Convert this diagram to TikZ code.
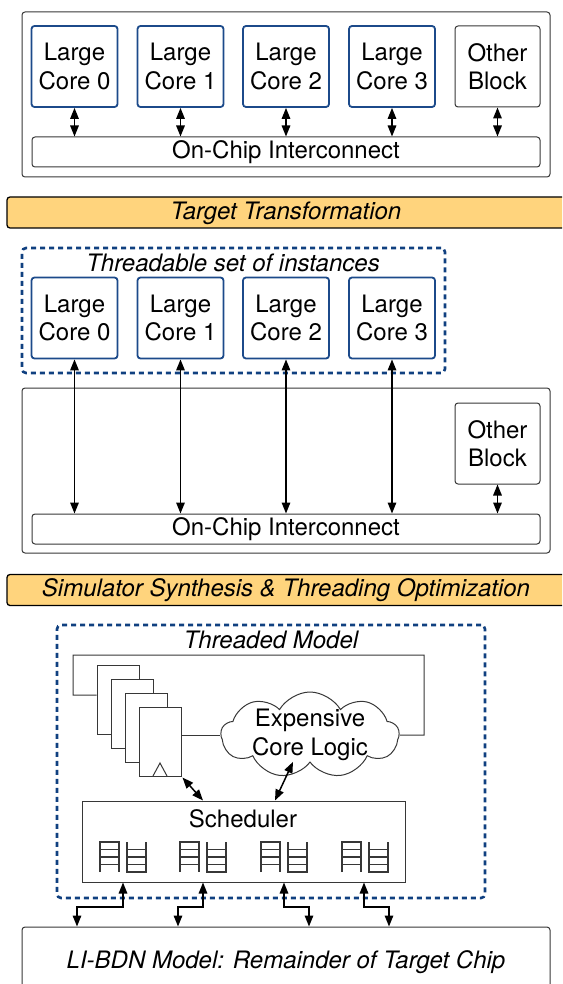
\documentclass[tikz,border=0pt]{standalone}
\usepackage{fontspec}
\setmainfont{TeX Gyre Heros}
\usetikzlibrary{arrows.meta,shapes.symbols}
\definecolor{coreblue}{RGB}{28,74,138}
\definecolor{dashblue}{RGB}{16,64,128}
\definecolor{bannerfill}{RGB}{255,212,125}
\definecolor{boxgray}{RGB}{55,55,55}
\begin{document}
\begin{tikzpicture}[x=1pt,y=-1pt,
  font=\fontsize{24}{28.5}\selectfont,
  corebox/.style={draw=coreblue, line width=1.8pt, rounded corners=3pt, fill=white, align=center, inner sep=0pt, minimum width=86pt, minimum height=81pt},
  plainbox/.style={draw=boxgray, line width=1pt, rounded corners=3pt, align=center, inner sep=0pt},
  dashbox/.style={draw=dashblue, line width=2.6pt, dash pattern=on 5pt off 4pt, rounded corners=4pt, inner sep=0pt},
  banner/.style={draw=black, line width=1.3pt, fill=bannerfill, rounded corners=3pt, inner sep=0pt, minimum width=563pt, minimum height=31pt},
  regbox/.style={draw=boxgray, line width=1pt, fill=white, inner sep=0pt, minimum width=42pt, minimum height=69pt},
  wire/.style={draw=boxgray, line width=1pt},
  qline/.style={draw=boxgray, line width=1.4pt},
  dbl/.style={{Triangle[length=11pt,width=8.5pt]}-{Triangle[length=11pt,width=8.5pt]}, line width=1.5pt},
]
\useasboundingbox (0,0) rectangle (562,984);
\clip (0,0) rectangle (562,984);

% ---------- Section 1 ----------
\node[plainbox, minimum width=528pt, minimum height=165pt] (o1) at (286,94.5) {};
\node[corebox] (a0) at (74.5,66.5) {Large\\Core 0};
\node[corebox] (a1) at (180.5,66.5) {Large\\Core 1};
\node[corebox] (a2) at (286,66.5) {Large\\Core 2};
\node[corebox] (a3) at (392,66.5) {Large\\Core 3};
\node[plainbox, minimum width=85pt, minimum height=81pt] (aob) at (497.5,66.5) {Other\\Block};
\node[plainbox, minimum width=508pt, minimum height=30pt] (ic1) at (286,152) {On-Chip Interconnect};
\foreach \n in {a0,a1,a2,a3,aob}
  \draw[dbl] (\n.south) -- (\n.south |- ic1.north);

% ---------- Banner 1 ----------
\node[banner] (b1) at (288.5,212.5) {};
\node (b1t) at (286,213) {\itshape Target Transformation};

% ---------- Section 2 ----------
\node[dashbox, minimum width=423pt, minimum height=125pt] (d2) at (233.5,310.5) {};
\node (d2t) at (233,263) {\itshape Threadable set of instances};
\node[plainbox, minimum width=528pt, minimum height=165pt] (o2) at (286,470.5) {};
\node[corebox] (c0) at (74.5,318) {Large\\Core 0};
\node[corebox] (c1) at (180.5,318) {Large\\Core 1};
\node[corebox] (c2) at (286,318) {Large\\Core 2};
\node[corebox] (c3) at (392,318) {Large\\Core 3};
\node[plainbox, fill=white, minimum width=85pt, minimum height=81pt] (cob) at (497.5,443.5) {Other\\Block};
\node[plainbox, minimum width=508pt, minimum height=30pt] (ic2) at (286,529) {On-Chip Interconnect};
\foreach \n in {c0,c1,c2,c3,cob}
  \draw[dbl] (\n.south) -- (\n.south |- ic2.north);

% ---------- Banner 2 ----------
\node[banner] (b2) at (288.5,590) {};
\node (b2t) at (286,590) {\itshape Simulator Synthesis \& Threading Optimization};

% ---------- Section 3 ----------
\node[dashbox, minimum width=428pt, minimum height=273pt] (d3) at (271,761.5) {};
\node (d3t) at (271,640) {\itshape Threaded Model};

\node[regbox] (r0) at (118,699.5) {};
\node[regbox] (r1) at (132,713.5) {};
\node[regbox] (r2) at (146,727.5) {};
\node[regbox] (r3) at (160,741.5) {};
\draw[wire] (153,776) -- (160,763) -- (167,776);

\node[cloud, draw=boxgray, line width=1pt, cloud puffs=9, cloud puff arc=120,
      cloud ignores aspect, minimum width=178pt, minimum height=86pt,
      inner sep=-10pt, align=center] (cl) at (310,735) {Expensive\\Core Logic};

\draw[wire] ([yshift=4.5pt]r0.west) -| (73,655) -| (424,735) -- (cl.east);
\draw[wire] (r3.east |- cl.west) -- (cl.west);

\node[draw=boxgray, line width=1pt, inner sep=0pt, minimum width=323pt, minimum height=81pt] (sch) at (243.5,841.5) {};
\node (scht) at (243,819) {Scheduler};

\foreach \L in {100,180,261,342} {
  \draw[qline] (\L,872) -- (\L,842) -- (\L+19,842) -- (\L+19,872);
  \draw[qline] (\L,849.5) -- ++(19,0) (\L,857) -- ++(19,0) (\L,864.5) -- ++(19,0);
  \draw[qline] (\L+27,842) -- (\L+27,872) -- (\L+46,872) -- (\L+46,842);
  \draw[qline] (\L+27,849.5) -- ++(19,0) (\L+27,857) -- ++(19,0) (\L+27,864.5) -- ++(19,0);
}

\draw[dbl] ([shift={(1pt,-1pt)}]r3.south east) -- ([xshift=-40.5pt]sch.north);
\draw[dbl] ([xshift=-17pt,yshift=1pt]cl.south) -- ([xshift=31.5pt]sch.north);

\node[plainbox, minimum width=528pt, minimum height=85pt] (lib) at (286,969.5) {};
\node (libt) at (286,962) {\itshape LI-BDN Model: Remainder of Target Chip};

\draw[dbl] (sch.south -| 123,0) -- (123,907) -- (77,907) -- (lib.north -| 77,0);
\draw[dbl] (sch.south -| 203,0) -- (203,907) -- (178,907) -- (lib.north -| 178,0);
\draw[dbl] (sch.south -| 284,0) -- (284,907) -- (309,907) -- (lib.north -| 309,0);
\draw[dbl] (sch.south -| 364,0) -- (364,907) -- (389,907) -- (lib.north -| 389,0);
\end{tikzpicture}
\end{document}
